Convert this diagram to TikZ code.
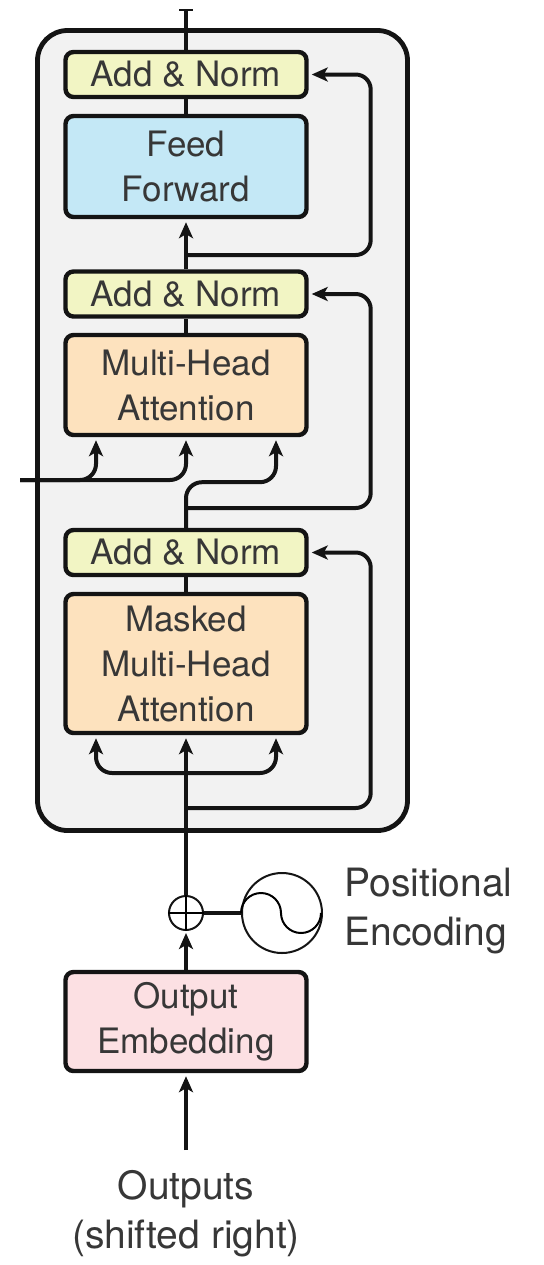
\documentclass[tikz,border=0pt]{standalone}
\usepackage{fontspec}
\setmainfont{TeX Gyre Heros}
\usetikzlibrary{arrows.meta,calc}

\definecolor{normc}{RGB}{242,245,196}
\definecolor{ffc}{RGB}{196,232,246}
\definecolor{attc}{RGB}{253,226,190}
\definecolor{embc}{RGB}{252,224,227}
\definecolor{layc}{RGB}{242,242,242}
\definecolor{ink}{RGB}{20,20,20}

\begin{document}
\begin{tikzpicture}[x=0.5pt,y=-0.5pt,
    blk/.style={draw=ink, line width=2.2pt, rounded corners=4pt, minimum width=120.5pt,
      inner sep=0pt, align=center, text=ink!85, font=\fontsize{17.5}{22.5}\selectfont},
    lbl/.style={inner sep=0pt, text=ink!85, font=\fontsize{19.5}{24.5}\selectfont},
    wire/.style={draw=ink, line width=2pt},
    arr/.style={wire, -{Stealth[length=8pt,width=7pt,inset=2pt]}},
    res/.style={arr, rounded corners=7.5pt}]
  \useasboundingbox (0,0) rectangle (544,1265);

  % decoder layer
  \node[draw=ink, line width=2.4pt, fill=layc, rounded corners=15pt,
    minimum width=185pt, minimum height=400pt] (layer) at (222.5,430.5) {};

  \node[blk, fill=normc, minimum height=22.5pt] (an1) at (186,74.5) {Add \& Norm};
  \node[blk, fill=ffc, minimum height=50.5pt] (ff) at (186,166.5) {Feed\\Forward};
  \node[blk, fill=normc, minimum height=22.5pt] (an2) at (186,294) {Add \& Norm};
  \node[blk, fill=attc, minimum height=50pt] (mha) at (186,385) {Multi-Head\\Attention};
  \node[blk, fill=normc, minimum height=22.5pt] (an3) at (186,552.5) {Add \& Norm};
  \node[blk, fill=attc, minimum height=69.5pt] (mmha) at (186,663.5) {Masked\\Multi-Head\\Attention};

  \node[blk, fill=embc, minimum height=49.5pt] (emb) at (186,1021.5) {Output\\Embedding};
  \node[circle, draw=ink, line width=1pt, minimum size=17pt, inner sep=0pt] (plus) at (186,913) {};
  \node[circle, draw=ink, line width=1pt, minimum size=40pt, inner sep=0pt] (pe) at (282,913) {};
  \node[lbl, anchor=west, align=left] (pelbl) at (344,911) {Positional\\Encoding};
  \node[lbl, align=center] (outlbl) at (186,1214) {Outputs\\(shifted right)};

  \coordinate (top) at (186,9);
  \coordinate (r1) at (186,255);
  \coordinate (r2) at (186,508);
  \coordinate (r3) at (186,808);
  \coordinate (s3) at (186,773);
  \coordinate (enc) at (20,480);
  \coordinate (src) at (186,1150);

  % input side
  \draw[arr] (src) -- ($(emb.south)+(0,3)$);
  \draw[arr] (emb.north) -- ($(plus.south)+(0,2)$);
  \draw[line width=1pt] (plus.north) -- (plus.south) (plus.west) -- (plus.east);
  \draw[wire] (plus.east) -- (pe.west);
  \draw[line width=1pt] (pe.west) arc[start angle=180, end angle=0, radius=10pt]
    arc[start angle=180, end angle=360, radius=10pt];

  % masked attention sublayer
  \draw[arr] (plus.north) -- ($(mmha.south)+(0,3)$);
  \draw[arr, rounded corners=8pt] (s3) -| ($(mmha.south)+(-90,3)$);
  \draw[arr, rounded corners=8pt] (s3) -| ($(mmha.south)+(90,3)$);
  \draw[res] (r3) -| ($(an3.east)+(62,0)$) -- ($(an3.east)+(3,0)$);
  \draw[wire] (mmha.north) -- (an3.south);

  % attention over the encoder output
  \draw[arr, rounded corners=8pt] (enc) -| ($(mha.south)+(-90,3)$);
  \draw[arr, rounded corners=8pt] (enc) -| ($(mha.south)+(0,3)$);
  \draw[arr, rounded corners=8pt] (an3.north) |- ($(mha.south)+(45,45)$) -| ($(mha.south)+(90,3)$);
  \draw[res] (r2) -| ($(an2.east)+(62,0)$) -- ($(an2.east)+(3,0)$);
  \draw[wire] (mha.north) -- (an2.south);

  % feed forward sublayer
  \draw[arr] (an2.north) -- ($(ff.south)+(0,3)$);
  \draw[res] (r1) -| ($(an1.east)+(62,0)$) -- ($(an1.east)+(3,0)$);
  \draw[wire] (ff.north) -- (an1.south);
  \draw[wire, -{Bar[width=7pt,line width=1.2pt]}] (an1.north) -- (top);
\end{tikzpicture}
\end{document}
